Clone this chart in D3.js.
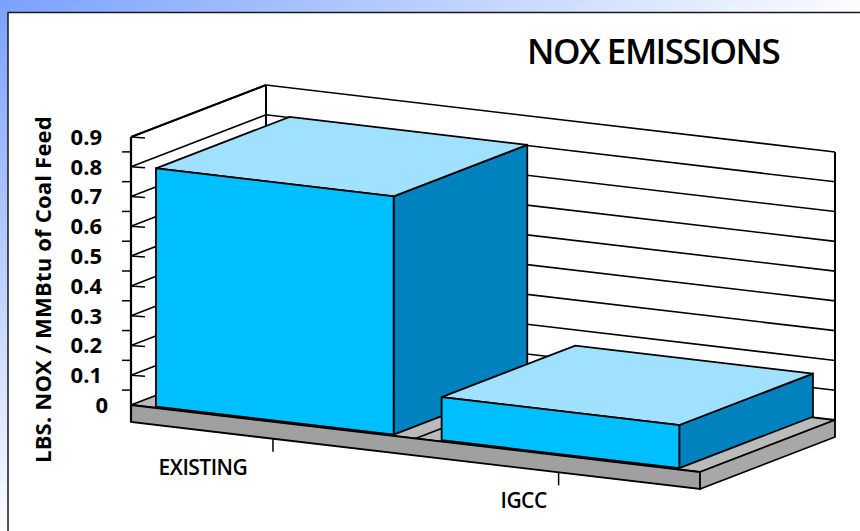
<!DOCTYPE html>
<html>
<head>
<meta charset="utf-8">
<script src="https://cdnjs.cloudflare.com/ajax/libs/d3/7.8.5/d3.min.js"></script>
<style>
html, body { margin: 0; padding: 0; background: #fff; overflow: hidden; }
svg { display: block; }
text { font-family: "Open Sans", "Noto Sans", sans-serif; fill: #000; }
</style>
</head>
<body>
<svg id="chart" width="860" height="531"></svg>
<script>
// Chart content
const chartTitle = "NOX EMISSIONS";
const yAxisTitle = "LBS. NOX / MMBtu of Coal Feed";
const categories = ["EXISTING", "IGCC"];
const emissions = [0.8, 0.145];
const valueTicks = [0, 0.1, 0.2, 0.3, 0.4, 0.5, 0.6, 0.7, 0.8, 0.9];
const valueTickLabels = ["0", "0.1", "0.2", "0.3", "0.4", "0.5", "0.6", "0.7", "0.8", "0.9"];
const minorTicks = [0.05, 0.15, 0.25, 0.35, 0.45, 0.55, 0.65, 0.75, 0.85];

// Oblique projection: u runs along the front edge, v runs into the depth, h is the value
const uX = d3.scaleLinear().domain([0, 1]).range([131, 700]);
const uY = d3.scaleLinear().domain([0, 1]).range([405, 472]);
const vX = d3.scaleLinear().domain([0, 1]).range([0, 135]);
const vY = d3.scaleLinear().domain([0, 1]).range([0, -52]);
const hY = d3.scaleLinear().domain([0, 0.9]).range([0, -268]);
const project = (u, v, h) => [uX(u) + vX(v), uY(u) + vY(v) + hY(h)];

const band = d3.scaleBand().domain(categories).range([0, 0.998]).paddingInner(0.168).paddingOuter(0.078);

const svg = d3.select("#chart");
const defs = svg.append("defs");

// Page backdrop fades from blue in the top-left corner to white
const bg = defs.append("linearGradient").attr("id", "backdrop")
  .attr("gradientUnits", "userSpaceOnUse")
  .attr("x1", 0).attr("y1", 0).attr("x2", 246).attr("y2", 398);
bg.append("stop").attr("offset", 0).attr("stop-color", "#7aa1ff");
bg.append("stop").attr("offset", 1).attr("stop-color", "#ffffff");
svg.append("rect").attr("width", 860).attr("height", 531).attr("fill", "url(#backdrop)");

// Fine dither on the front of the floor slab
const dither = defs.append("pattern").attr("id", "dither")
  .attr("patternUnits", "userSpaceOnUse").attr("width", 2).attr("height", 2);
dither.append("rect").attr("width", 2).attr("height", 2).attr("fill", "#a8a8a8");
dither.append("rect").attr("width", 1).attr("height", 1).attr("fill", "#979797");
dither.append("rect").attr("x", 1).attr("y", 1).attr("width", 1).attr("height", 1).attr("fill", "#979797");

// White panel
svg.append("rect").attr("x", 8).attr("y", 12.5).attr("width", 900).attr("height", 600)
  .attr("fill", "#fff").attr("stroke", "#1a1a1a").attr("stroke-width", 1.5);

const line = d3.line();
const poly = pts => line(pts) + "Z";
const SLAB = 17;
const down = (p, d) => [p[0], p[1] + d];

const plot = svg.append("g").attr("stroke-linejoin", "miter");

// Gridlines along both walls
const grid = plot.append("g").attr("fill", "none").attr("stroke", "#000").attr("stroke-width", 1.6);
grid.selectAll("path").data(valueTicks.slice(1)).join("path")
  .attr("d", t => line([project(0, 0, t), project(0, 1, t), project(1, 1, t)]));

// Wall verticals
const edges = plot.append("g").attr("stroke", "#000").attr("fill", "none").attr("stroke-width", 2);
edges.append("path").attr("d", line([project(0, 1, 0), project(0, 1, 0.9)]));
edges.append("path").attr("d", line([project(1, 1, 0), project(1, 1, 0.9)]));
edges.append("path").attr("d", line([project(0, 0, 0.9), project(0, 1, 0.9)]));

// Floor slab, with the divider between the two categories
plot.append("path").attr("d", poly([project(0, 0, 0), project(1, 0, 0), project(1, 1, 0), project(0, 1, 0)]))
  .attr("fill", "#bababa").attr("stroke", "#000").attr("stroke-width", 1.8);
plot.append("path").attr("d", line([project(0.5, 0, 0), project(0.5, 1, 0)]))
  .attr("fill", "none").attr("stroke", "#000").attr("stroke-width", 1.6);
plot.append("path").attr("d", poly([project(0, 0, 0), project(1, 0, 0), down(project(1, 0, 0), SLAB), down(project(0, 0, 0), SLAB)]))
  .attr("fill", "url(#dither)").attr("stroke", "#000").attr("stroke-width", 1.8);
plot.append("path").attr("d", poly([project(1, 0, 0), project(1, 1, 0), down(project(1, 1, 0), SLAB), down(project(1, 0, 0), SLAB)]))
  .attr("fill", "#a8a8a8").attr("stroke", "#000").attr("stroke-width", 1.8);

// Boxes
const V0 = 0.02, V1 = 1.01;
const boxes = plot.selectAll("g.box").data(categories.map((c, i) => ({ c, value: emissions[i] })))
  .join("g").attr("class", "box").attr("stroke", "#000").attr("stroke-width", 1.8);
boxes.append("path").attr("fill", "#0082be").attr("d", d => {
  const r = band(d.c) + band.bandwidth();
  return poly([project(r, V0, 0), project(r, V1, 0), project(r, V1, d.value), project(r, V0, d.value)]);
});
boxes.append("path").attr("fill", "#a0e1ff").attr("d", d => {
  const l = band(d.c), r = l + band.bandwidth();
  return poly([project(l, V0, d.value), project(r, V0, d.value), project(r, V1, d.value), project(l, V1, d.value)]);
});
boxes.append("path").attr("fill", "#00bfff").attr("d", d => {
  const l = band(d.c), r = l + band.bandwidth();
  return poly([project(l, V0, 0), project(r, V0, 0), project(r, V0, d.value), project(l, V0, d.value)]);
});

// Value axis: spine, inward ticks at labelled values, outward ticks between them
const axis = svg.append("g").attr("stroke", "#000").attr("fill", "none");
axis.append("path").attr("stroke-width", 2.2)
  .attr("d", line([project(0, 0, 0.9), down(project(0, 0, 0), SLAB)]));
axis.append("g").selectAll("path").data(valueTicks.slice(1)).join("path").attr("stroke-width", 1.5)
  .attr("d", t => { const p = project(0, 0, t); return line([p, [p[0] + 14, p[1] + 1]]); });
axis.append("g").selectAll("path").data(minorTicks).join("path").attr("stroke-width", 1.5)
  .attr("d", t => { const p = project(0, 0, t); return line([p, [p[0] - 9, p[1]]]); });

// Value labels
svg.append("g").selectAll("text").data(valueTicks).join("text")
  .attr("x", t => t === 0 ? 108 : 102)
  .attr("y", t => project(0, 0, t)[1])
  .attr("dy", "0.36em")
  .attr("text-anchor", "end")
  .attr("font-size", 22).attr("font-weight", 700)
  .text((t, i) => valueTickLabels[i]);

// Category ticks and labels
const labelX = { EXISTING: -70, IGCC: -35 };
const labelY = { EXISTING: 36, IGCC: 36 };
categories.forEach(c => {
  const u = band(c) + band.bandwidth() / 2 + 0.0015;
  const p = down(project(u, 0, 0), SLAB);
  svg.append("path").attr("d", line([p, [p[0], p[1] + 13]])).attr("stroke", "#000").attr("stroke-width", 1.5);
  svg.append("text").attr("x", p[0] + labelX[c]).attr("y", p[1] + labelY[c])
    .attr("text-anchor", "middle").attr("font-size", 21).attr("font-weight", 600)
    .attr("letter-spacing", -0.5).text(c);
});

// Titles
svg.append("text").attr("x", 527).attr("y", 64).attr("font-size", 35).attr("font-weight", 600)
  .attr("letter-spacing", -1.5).text(chartTitle);
svg.append("text").attr("transform", "translate(51,463) rotate(-90)")
  .attr("font-size", 22).attr("font-weight", 700).attr("letter-spacing", 0.2).text(yAxisTitle);
</script>
</body>
</html>
